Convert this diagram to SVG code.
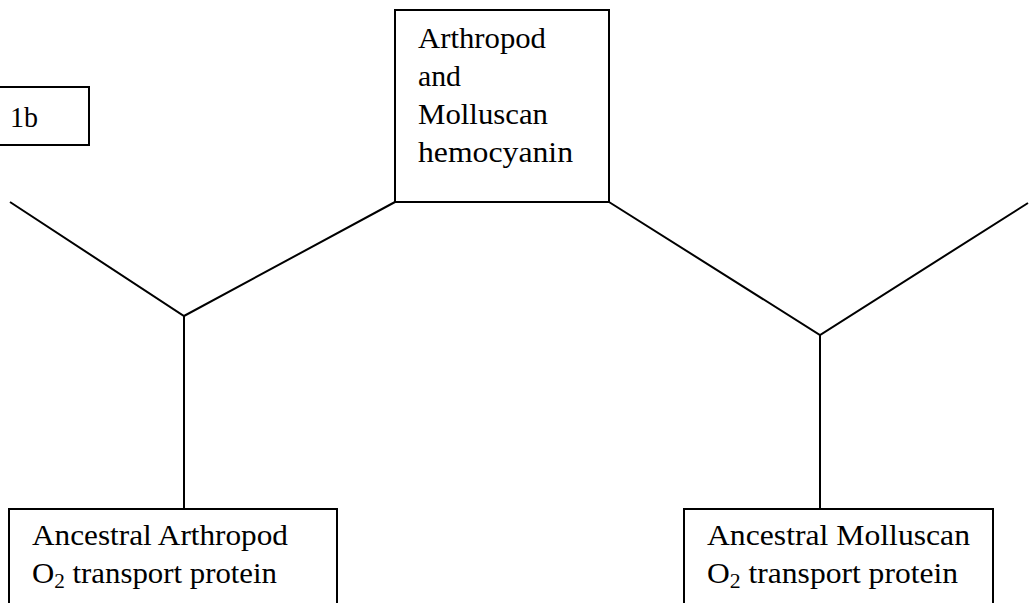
<svg xmlns="http://www.w3.org/2000/svg" width="1029" height="603" viewBox="0 0 1029 603">
<style>
.box{fill:#fff;stroke:#000;stroke-width:2}
.ln{fill:none;stroke:#000;stroke-width:2}
text{font-family:"Liberation Serif","Times New Roman",serif;font-size:29px;fill:#000}
.sub{font-size:20px}
</style>
<rect width="1029" height="603" fill="#fff"/>
<g id="connectors">
<polyline class="ln" points="10,202 184,316 395,202"/>
<line class="ln" x1="184" y1="316" x2="184" y2="509"/>
<polyline class="ln" points="609,202 820,335 1028,203"/>
<line class="ln" x1="820" y1="335" x2="820" y2="509"/>
</g>
<g id="label-1b">
<rect class="box" x="-2" y="87" width="91" height="58"/>
<text x="10" y="127" textLength="28" lengthAdjust="spacingAndGlyphs">1b</text>
</g>
<g id="hemocyanin">
<rect class="box" x="395" y="10" width="214" height="192"/>
<text x="418" y="48" textLength="128" lengthAdjust="spacingAndGlyphs">Arthropod</text>
<text x="418" y="86" textLength="43" lengthAdjust="spacingAndGlyphs">and</text>
<text x="418" y="124" textLength="130" lengthAdjust="spacingAndGlyphs">Molluscan</text>
<text x="418" y="162" textLength="155" lengthAdjust="spacingAndGlyphs">hemocyanin</text>
</g>
<g id="ancestral-arthropod">
<rect class="box" x="9" y="509" width="328" height="110"/>
<text x="32" y="545" textLength="256" lengthAdjust="spacingAndGlyphs">Ancestral Arthropod</text>
<text x="32" y="583" textLength="245" lengthAdjust="spacingAndGlyphs">O<tspan class="sub" dy="5">2</tspan><tspan dy="-5"> transport protein</tspan></text>
</g>
<g id="ancestral-molluscan">
<rect class="box" x="684" y="509" width="309" height="110"/>
<text x="707" y="545" textLength="263" lengthAdjust="spacingAndGlyphs">Ancestral Molluscan</text>
<text x="707" y="583" textLength="251" lengthAdjust="spacingAndGlyphs">O<tspan class="sub" dy="5">2</tspan><tspan dy="-5"> transport protein</tspan></text>
</g>
</svg>
